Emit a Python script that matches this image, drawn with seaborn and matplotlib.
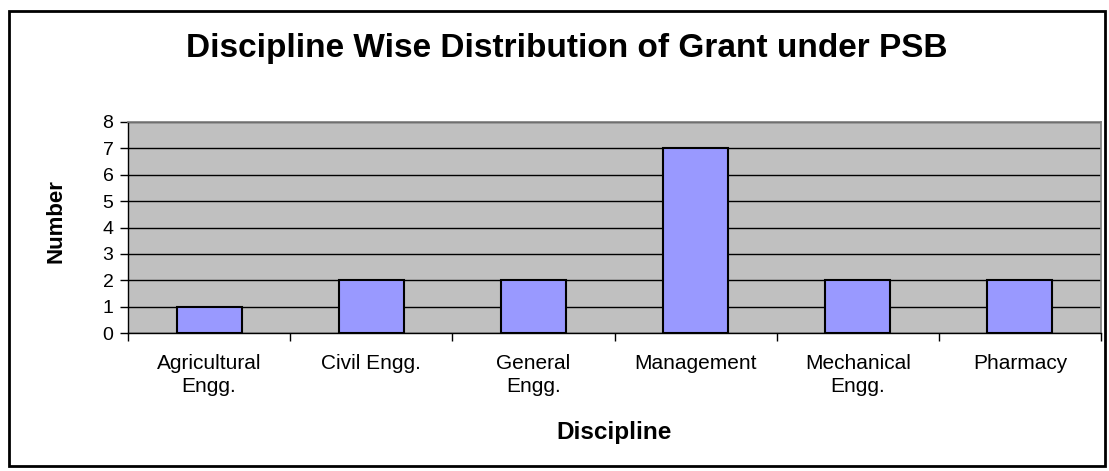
import matplotlib
matplotlib.use("Agg")
import matplotlib.pyplot as plt
import seaborn as sns
import pandas as pd
from matplotlib.patches import Rectangle
from matplotlib.ticker import FixedLocator

disciplines = ["Agricultural\nEngg.", "Civil Engg.", "General\nEngg.", "Management", "Mechanical\nEngg.", "Pharmacy"]
numbers = [1, 2, 2, 7, 2, 2]
y_ticks = [0, 1, 2, 3, 4, 5, 6, 7, 8]

df = pd.DataFrame({"Discipline": disciplines, "Number": numbers})

sns.set_theme()
sns.set_style("whitegrid", {"axes.facecolor": "#C0C0C0", "grid.color": "black", "axes.edgecolor": "#808080",
                            "text.color": "black", "xtick.color": "black", "ytick.color": "black",
                            "axes.labelcolor": "black"})
plt.rcParams['font.family'] = ['Liberation Sans', 'DejaVu Sans']

fig = plt.figure(figsize=(11.09, 4.71), dpi=100)
ax = fig.add_axes([128 / 1109, 1 - 333 / 471, (1101 - 128) / 1109, (333 - 122) / 471])

sns.barplot(data=df, x="Discipline", y="Number", color="#9999FF", saturation=1,
            edgecolor="black", linewidth=1.5, width=0.4, ax=ax, zorder=3)

ax.set_ylim(0, 8)
ax.set_xlim(-0.5, len(disciplines) - 0.5)
ax.set_yticks(y_ticks)
ax.grid(axis="y", color="black", linewidth=1)
ax.grid(axis="x", visible=False)
ax.set_axisbelow(True)

ax.tick_params(axis="y", labelsize=14, length=5.5, width=1, color="black", left=True, pad=5)
ax.tick_params(axis="x", which="major", labelsize=15, length=0, pad=15)
ax.xaxis.set_minor_locator(FixedLocator([i - 0.5 for i in range(len(disciplines) + 1)]))
ax.tick_params(axis="x", which="minor", length=6, width=1, color="black", bottom=True, direction="out")
for lbl in ax.get_xticklabels():
    lbl.set_linespacing(1.25)

ax.spines["left"].set_color("black")
ax.spines["bottom"].set_color("black")
ax.spines["left"].set_linewidth(1)
ax.spines["bottom"].set_linewidth(1)

ax.set_xlabel("Discipline", fontsize=17.5, fontweight="bold")
ax.xaxis.set_label_coords(0.5, (333 - 433) / 211)
ax.xaxis.label.set_va("center")
ax.set_ylabel("Number", fontsize=16, fontweight="bold")
ax.yaxis.set_label_coords((56 - 128) / 973, (333 - 221) / 211)
ax.yaxis.label.set_va("center")

fig.text(567 / 1109, 1 - 49 / 471, "Discipline Wise Distribution of Grant under PSB",
         ha="center", va="center", fontsize=24, fontweight="bold", color="black")

fig.patches.append(Rectangle((9 / 1109, 5 / 471), (1105 - 9) / 1109, (460 - 5) / 471,
                             transform=fig.transFigure, fill=False, edgecolor="black", linewidth=2))

fig.savefig("out.png", dpi=100, facecolor="white")
